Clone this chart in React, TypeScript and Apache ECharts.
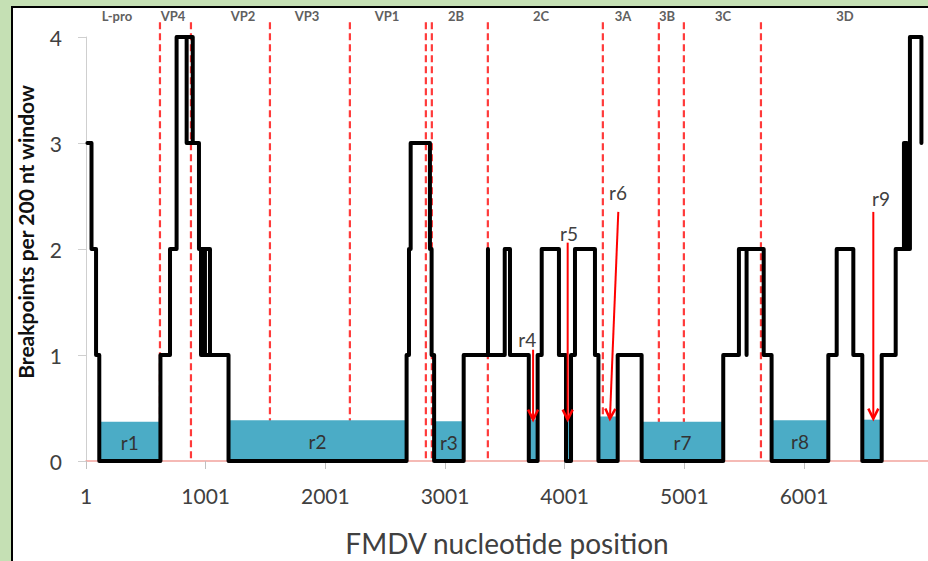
import React, { useEffect, useRef } from "react";
import * as echarts from "echarts";

// ---- Data (nucleotide positions, breakpoints per window) ----
const breakpointSteps: [number, number][] = [
  [13, 3], [47, 3], [47, 2], [85, 2], [85, 1], [112, 1], [112, 0],
  [623, 0], [623, 1], [703, 1], [703, 2], [758, 2], [758, 4], [893, 4], [893, 3], [842, 3], [842, 4], [842, 3],
  [945, 3], [945, 2], [1037, 2], [1037, 1], [995, 1], [995, 2], [962, 2], [962, 1], [1192, 1], [1192, 0],
  [2680, 0], [2680, 1], [2700, 1], [2700, 2], [2714, 2], [2714, 3], [2875, 3], [2875, 2], [2889, 2], [2889, 1], [2910, 1], [2910, 0],
  [3157, 0], [3157, 1], [3360, 1], [3360, 2], [3360, 1], [3500, 1], [3500, 2], [3544, 2], [3544, 1], [3701, 1], [3701, 0],
  [3775, 0], [3775, 1], [3809, 1], [3809, 2], [3953, 2], [3953, 1], [4012, 1], [4012, 0],
  [4054, 0], [4054, 1], [4087, 1], [4087, 2], [4254, 2], [4254, 1], [4283, 1], [4283, 0],
  [4444, 0], [4444, 1], [4644, 1], [4644, 0],
  [5326, 0], [5326, 1], [5457, 1], [5457, 2], [5521, 2], [5521, 1], [5521, 2], [5664, 2], [5664, 1], [5730, 1], [5730, 0],
  [6204, 0], [6204, 1], [6274, 1], [6274, 2], [6413, 2], [6413, 1], [6488, 1], [6488, 0],
  [6650, 0], [6650, 1], [6767, 1], [6767, 2], [6836, 2], [6836, 3], [6861, 3], [6861, 2], [6886, 2], [6886, 4], [6982, 4], [6982, 3],
];

const regionNames = ["r1", "r2", "r3", "r4", "r5", "r6", "r7", "r8", "r9"];
const regionStart = [110, 1192, 2910, 3701, 4012, 4283, 4644, 5730, 6488];
const regionEnd = [623, 2680, 3157, 3775, 4054, 4444, 5326, 6204, 6650];
const regionHeight = [0.37, 0.385, 0.375, 0.39, 0.39, 0.42, 0.37, 0.385, 0.39];
const regionLabelShown = [true, true, true, false, false, false, true, true, false];

const geneNames = ["L-pro", "VP4", "VP2", "VP3", "VP1", "2B", "2C", "3A", "3B", "3C", "3D"];
const geneLabelPos = [260, 728, 1313, 1848, 2516, 3093, 3803, 4488, 4856, 5324, 6343];
const geneBoundaries = [619, 878, 1538, 2206, 2841, 2891, 3359, 4320, 4788, 4997, 5641];

const arrowNames = ["r4", "r5", "r6", "r9"];
const arrowFromX = [3737, 4026, 4449, 6580];
const arrowFromY = [1.05, 2.06, 2.35, 2.35];
const arrowToX = [3737, 4026, 4379, 6580];
const arrowToY = [0.39, 0.39, 0.4, 0.4];
const arrowLabelX = [3688, 4037, 4446, 6644];
const arrowLabelY = [1.15, 2.15, 2.53, 2.48];

const xTickLabels = [1, 1001, 2001, 3001, 4001, 5001, 6001];
const xAxisEnd = 7037;
const yTicks = [0, 1, 2, 3, 4];

const toAxis = (nt: number) => nt - 1;

export default function App() {
  const ref = useRef<HTMLDivElement>(null);

  useEffect(() => {
    if (!ref.current) return;
    const chart = echarts.init(ref.current, undefined, { renderer: "svg" });
    const labelFont = "19px Lato";
    const xTickValues = xTickLabels.map(toAxis);
    const option: any = {
      animation: false,
      backgroundColor: "transparent",
      grid: { left: 86, right: 0, top: 37, bottom: 100, containLabel: false, outerBoundsMode: "none" },
      xAxis: {
        type: "value",
        min: 0,
        max: toAxis(xAxisEnd),
        interval: 1000,
        axisLine: { show: true, lineStyle: { color: "#f2a39d", width: 1.5 } },
        axisTick: { show: true, length: 8, customValues: xTickValues, lineStyle: { color: "#c0c0c0", width: 1 } },
        axisLabel: {
          margin: 24,
          fontSize: 21,
          fontFamily: "Lato",
          color: "#404040",
          customValues: xTickValues,
          formatter: (v: number) => String(v + 1),
        },
        splitLine: { show: false },
      },
      yAxis: {
        type: "value",
        min: yTicks[0],
        max: yTicks[yTicks.length - 1],
        interval: 1,
        axisLine: { show: true, lineStyle: { color: "#cfcfcf", width: 1 } },
        axisTick: { show: true, length: 8, lineStyle: { color: "#cfcfcf", width: 1 } },
        axisLabel: { margin: 24, fontSize: 21, fontFamily: "Lato", color: "#404040" },
        splitLine: { show: false },
      },
      graphic: [
        {
          type: "text",
          x: 25,
          y: 232,
          rotation: Math.PI / 2,
          style: {
            text: "Breakpoints per 200 nt window",
            font: "bold 21px Lato",
            fill: "#111111",
            align: "center",
            verticalAlign: "middle",
          },
        },
        {
          type: "text",
          x: 507,
          y: 543,
          style: {
            text: "FMDV nucleotide position",
            font: "28px Lato",
            fill: "#404040",
            align: "center",
            verticalAlign: "middle",
          },
        },
      ],
      series: [
        {
          type: "custom",
          name: "boundaries",
          z: 1,
          clip: false,
          encode: { x: 0, y: 1 },
          data: geneBoundaries.map((b) => [toAxis(b), 0]),
          renderItem: (params: any, api: any) => {
            const x = api.value(0);
            const p0 = api.coord([x, 4.14]);
            const p1 = api.coord([x, 0]);
            return {
              type: "line",
              shape: { x1: p0[0], y1: p0[1], x2: p1[0], y2: p1[1] },
              style: { stroke: "#ff3a3a", lineWidth: 2.2, lineDash: [7, 4] },
            };
          },
        },
        {
          type: "custom",
          name: "genes",
          z: 1,
          clip: false,
          encode: { x: 0, y: 1 },
          data: geneLabelPos.map((g) => [toAxis(g), 4.2]),
          renderItem: (params: any, api: any) => {
            const p = api.coord([api.value(0), api.value(1)]);
            return {
              type: "text",
              x: p[0],
              y: p[1],
              style: {
                text: geneNames[params.dataIndex],
                font: "bold 13px Lato",
                fill: "#606060",
                align: "center",
                verticalAlign: "middle",
              },
            };
          },
        },
        {
          type: "custom",
          name: "regions",
          z: 2,
          encode: { x: [0, 1], y: 2 },
          data: regionNames.map((n, i) => [toAxis(regionStart[i]), toAxis(regionEnd[i]), regionHeight[i]]),
          renderItem: (params: any, api: any) => {
            const i = params.dataIndex;
            const p0 = api.coord([api.value(0), 0]);
            const p1 = api.coord([api.value(1), api.value(2)]);
            const children: any[] = [
              {
                type: "rect",
                shape: { x: p0[0], y: p1[1], width: p1[0] - p0[0], height: p0[1] - p1[1] },
                style: { fill: "#4bacc6" },
              },
            ];
            if (regionLabelShown[i]) {
              children.push({
                type: "text",
                x: (p0[0] + p1[0]) / 2,
                y: (p0[1] + p1[1]) / 2 + 1,
                style: {
                  text: regionNames[i],
                  font: labelFont,
                  fill: "#333333",
                  align: "center",
                  verticalAlign: "middle",
                },
              });
            }
            return { type: "group", children };
          },
        },
        {
          type: "line",
          name: "breakpoints",
          z: 3,
          showSymbol: false,
          symbol: "none",
          data: breakpointSteps.map(([x, y]) => [toAxis(x), y]),
          lineStyle: { color: "#000000", width: 4, cap: "round", join: "round" },
        },
        {
          type: "custom",
          name: "arrows",
          z: 4,
          clip: false,
          encode: { x: [0, 2], y: [1, 3] },
          data: arrowNames.map((n, i) => [toAxis(arrowFromX[i]), arrowFromY[i], toAxis(arrowToX[i]), arrowToY[i]]),
          renderItem: (params: any, api: any) => {
            const i = params.dataIndex;
            const a = api.coord([api.value(0), api.value(1)]);
            const b = api.coord([api.value(2), api.value(3)]);
            const ang = Math.atan2(b[1] - a[1], b[0] - a[0]);
            const hl = 10;
            const hw = 5;
            const bx = b[0] - hl * Math.cos(ang);
            const by = b[1] - hl * Math.sin(ang);
            const left = [bx + hw * Math.sin(ang), by - hw * Math.cos(ang)];
            const right = [bx - hw * Math.sin(ang), by + hw * Math.cos(ang)];
            const lp = api.coord([toAxis(arrowLabelX[i]), arrowLabelY[i]]);
            return {
              type: "group",
              children: [
                {
                  type: "line",
                  shape: { x1: a[0], y1: a[1], x2: b[0], y2: b[1] },
                  style: { stroke: "#ff0000", lineWidth: 2 },
                },
                {
                  type: "polyline",
                  shape: { points: [left, b, right] },
                  style: { stroke: "#ff0000", lineWidth: 2.5, fill: null },
                },
                {
                  type: "text",
                  x: lp[0],
                  y: lp[1],
                  style: {
                    text: arrowNames[i],
                    font: labelFont,
                    fill: "#404040",
                    align: "center",
                    verticalAlign: "middle",
                  },
                },
              ],
            };
          },
        },
      ],
    };
    chart.setOption(option);
    return () => chart.dispose();
  }, []);

  return (
    <div
      style={{
        position: "fixed",
        left: 0,
        top: 0,
        width: 928,
        height: 561,
        background: "#c5e0b4",
        overflow: "hidden",
      }}
    >
      <div
        style={{
          position: "absolute",
          left: 11,
          top: 6,
          width: 940,
          height: 580,
          background: "#ffffff",
          borderLeft: "2px solid #000000",
          borderTop: "2px solid #000000",
        }}
      />
      <div ref={ref} style={{ position: "absolute", left: 0, top: 0, width: 928, height: 561 }} />
    </div>
  );
}
